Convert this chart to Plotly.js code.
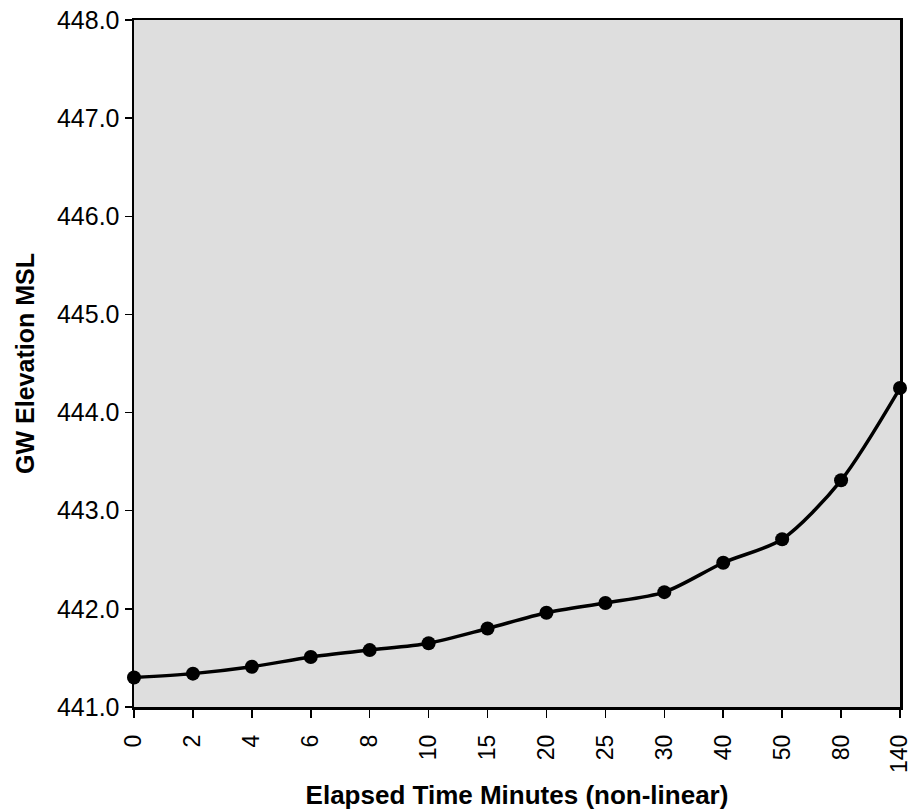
<!DOCTYPE html>
<html>
<head>
<meta charset="utf-8">
<script src="https://cdn.plot.ly/plotly-3.0.1.min.js"></script>
<style>html,body{margin:0;padding:0;background:#fff;}#chart{width:912px;height:810px;}</style>
</head>
<body>
<div id="chart"></div>
<script>
const elapsedMinutes = ["0","2","4","6","8","10","15","20","25","30","40","50","80","140"];
const gwElevation = [441.30, 441.34, 441.41, 441.51, 441.58, 441.65, 441.80, 441.96, 442.06, 442.17, 442.47, 442.71, 443.31, 444.25];
const yTickValues = [441, 442, 443, 444, 445, 446, 447, 448];

const font = "Liberation Sans, Arial, Helvetica, sans-serif";

const trace = {
  x: elapsedMinutes,
  y: gwElevation,
  type: "scatter",
  mode: "lines+markers",
  line: {color: "#000", width: 3.5, shape: "spline", smoothing: 0.8},
  marker: {color: "#000", size: 14, symbol: "circle"},
  cliponaxis: false,
  hoverinfo: "x+y"
};

const layout = {
  width: 912,
  height: 810,
  margin: {l: 134, r: 12, t: 20, b: 103},
  paper_bgcolor: "#ffffff",
  plot_bgcolor: "#dedede",
  showlegend: false,
  font: {family: font, color: "#000"},
  xaxis: {
    type: "category",
    range: [0, 13],
    tickangle: -90,
    ticks: "outside",
    ticklen: 8,
    tickwidth: 1.5,
    tickcolor: "#000",
    ticklabelstandoff: 8,
    showgrid: false,
    zeroline: false,
    showline: true,
    linecolor: "#000",
    linewidth: 2.5,
    mirror: true,
    tickfont: {family: font, size: 23, color: "#000"},
    title: {text: "<b>Elapsed Time Minutes (non-linear)</b>", font: {family: font, size: 26, color: "#000"}, standoff: 20}
  },
  yaxis: {
    range: [441, 448],
    tickvals: yTickValues,
    tickformat: ".1f",
    ticks: "outside",
    ticklen: 7,
    tickwidth: 1.5,
    tickcolor: "#000",
    showgrid: false,
    zeroline: false,
    showline: true,
    linecolor: "#000",
    linewidth: 2.5,
    mirror: true,
    tickfont: {family: font, size: 25, color: "#000"},
    title: {text: "<b>GW Elevation MSL</b>", font: {family: font, size: 25, color: "#000"}, standoff: 15}
  }
};

Plotly.newPlot("chart", [trace], layout, {displayModeBar: false, staticPlot: true});
</script>
</body>
</html>
